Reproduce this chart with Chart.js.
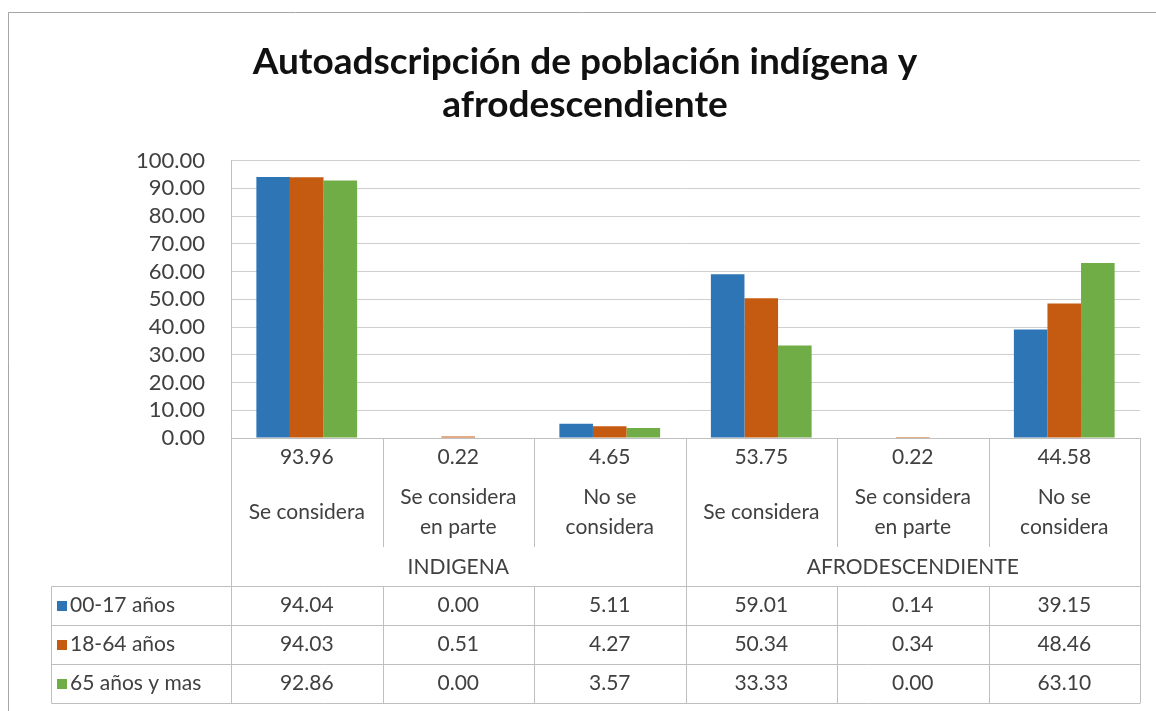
<!DOCTYPE html>
<html>
<head>
<meta charset="utf-8">
<script src="https://cdn.jsdelivr.net/npm/chart.js@4.4.1/dist/chart.umd.min.js"></script>
<style>
  html, body { margin: 0; padding: 0; background: #fff; }
  #contenedor { width: 1156px; height: 711px; position: relative; }
</style>
</head>
<body>
<div id="contenedor"><canvas id="graficaAutoadscripcion"></canvas></div>
<script>
// Datos de la gráfica
const categorias = [
  ['Se considera'],
  ['Se considera', 'en parte'],
  ['No se', 'considera'],
  ['Se considera'],
  ['Se considera', 'en parte'],
  ['No se', 'considera']
];
const totales = [93.96, 0.22, 4.65, 53.75, 0.22, 44.58];
const grupos = ['INDIGENA', 'AFRODESCENDIENTE'];
const categoriasPorGrupo = 3;

const series = ['00-17 años', '18-64 años', '65 años y mas'];
const edad00a17 = [94.04, 0.00, 5.11, 59.01, 0.14, 39.15];
const edad18a64 = [94.03, 0.51, 4.27, 50.34, 0.34, 48.46];
const edad65ymas = [92.86, 0.00, 3.57, 33.33, 0.00, 63.10];
const colores = ['#2E75B6', '#C55A11', '#70AD47'];

const ejeYMin = 0;
const ejeYMax = 100;
const ejeYPaso = 10;

const FUENTE = 'Lato, "Open Sans", sans-serif';
const TAM_TEXTO = 21;
const COLOR_TEXTO = '#404040';
const COLOR_LINEA = '#bfbfbf';

// Plugin: marco exterior y tabla de datos debajo del área de trazado
const tablaDatos = {
  id: 'tablaDatos',
  beforeDraw(chart) {
    const ctx = chart.ctx;
    ctx.save();
    ctx.fillStyle = '#fff';
    ctx.fillRect(0, 0, chart.width, chart.height);
    ctx.strokeStyle = '#a6a6a6';
    ctx.lineWidth = 1;
    ctx.beginPath();
    ctx.moveTo(8.5, chart.height);
    ctx.lineTo(8.5, 12.5);
    ctx.lineTo(chart.width, 12.5);
    ctx.stroke();
    ctx.restore();
  },
  afterDraw(chart) {
    const ctx = chart.ctx;
    const area = chart.chartArea;
    const n = categorias.length;
    const anchoCol = (area.right - area.left) / n;
    const bordes = [];
    for (let i = 0; i <= n; i++) bordes.push(Math.round(area.left + i * anchoCol) + 0.5);

    const base = Math.round(area.bottom);
    const finSeparador = base + 109;
    const tablaTop = base + 148;
    const altoFila = 39;
    const tablaBottom = tablaTop + altoFila * series.length;
    const tablaLeft = 51.5;
    const px = v => Math.round(v) + 0.5;

    ctx.save();
    ctx.strokeStyle = COLOR_LINEA;
    ctx.lineWidth = 1;
    ctx.beginPath();
    // línea base del eje
    ctx.moveTo(bordes[0], px(base));
    ctx.lineTo(bordes[n], px(base));
    // líneas verticales
    for (let i = 0; i <= n; i++) {
      const completa = (i % categoriasPorGrupo === 0);
      if (i === 0) {
        ctx.moveTo(bordes[i], area.top);
        ctx.lineTo(bordes[i], tablaBottom);
      } else if (completa) {
        ctx.moveTo(bordes[i], base);
        ctx.lineTo(bordes[i], tablaBottom);
      } else {
        ctx.moveTo(bordes[i], base);
        ctx.lineTo(bordes[i], finSeparador);
        ctx.moveTo(bordes[i], tablaTop);
        ctx.lineTo(bordes[i], tablaBottom);
      }
    }
    // filas de la leyenda
    for (let r = 0; r <= series.length; r++) {
      const y = px(tablaTop + r * altoFila);
      ctx.moveTo(tablaLeft, y);
      ctx.lineTo(bordes[n], y);
    }
    ctx.moveTo(tablaLeft, px(tablaTop));
    ctx.lineTo(tablaLeft, px(tablaBottom));
    ctx.stroke();

    ctx.fillStyle = COLOR_TEXTO;
    ctx.font = TAM_TEXTO + 'px ' + FUENTE;
    ctx.textAlign = 'center';
    ctx.textBaseline = 'middle';
    for (let i = 0; i < n; i++) {
      const cx = area.left + (i + 0.5) * anchoCol;
      ctx.fillText(totales[i].toFixed(2), cx, base + 19);
      const lineas = categorias[i];
      if (lineas.length === 1) {
        ctx.fillText(lineas[0], cx, base + 74);
      } else {
        ctx.fillText(lineas[0], cx, base + 59);
        ctx.fillText(lineas[1], cx, base + 89);
      }
    }
    grupos.forEach((g, k) => {
      const cx = area.left + (k * categoriasPorGrupo + categoriasPorGrupo / 2) * anchoCol;
      ctx.fillText(g, cx, base + 129);
    });

    const valores = chart.data.datasets.map(d => d.data);
    series.forEach((nombre, r) => {
      const cy = tablaTop + r * altoFila + altoFila / 2;
      ctx.fillStyle = colores[r];
      ctx.fillRect(57, Math.round(cy - 5), 10, 10);
      ctx.fillStyle = COLOR_TEXTO;
      ctx.textAlign = 'left';
      ctx.fillText(nombre, 70, cy);
      ctx.textAlign = 'center';
      for (let i = 0; i < n; i++) {
        const cx = area.left + (i + 0.5) * anchoCol;
        ctx.fillText(valores[r][i].toFixed(2), cx, cy);
      }
    });
    ctx.restore();
  }
};

const ctx = document.getElementById('graficaAutoadscripcion').getContext('2d');
const grafica = new Chart(ctx, {
  type: 'bar',
  data: {
    labels: categorias,
    datasets: [
      { label: series[0], data: edad00a17, backgroundColor: colores[0] },
      { label: series[1], data: edad18a64, backgroundColor: colores[1] },
      { label: series[2], data: edad65ymas, backgroundColor: colores[2] }
    ]
  },
  options: {
    responsive: true,
    maintainAspectRatio: false,
    animation: false,
    layout: { padding: { left: 30, right: 16, top: 0, bottom: 273 } },
    datasets: {
      bar: { categoryPercentage: 0.665, barPercentage: 1.0, borderWidth: 0 }
    },
    plugins: {
      legend: { display: false },
      tooltip: { enabled: false },
      title: {
        display: true,
        text: ['Autoadscripción de población indígena y', 'afrodescendiente'],
        color: '#111',
        font: { family: FUENTE, size: 37, weight: 'bold', lineHeight: 1.17 },
        padding: { top: 40, bottom: 34 }
      }
    },
    scales: {
      x: { display: false },
      y: {
        min: ejeYMin,
        max: ejeYMax,
        afterFit(scale) { scale.width = 201; },
        ticks: {
          stepSize: ejeYPaso,
          autoSkip: false,
          padding: 26,
          color: COLOR_TEXTO,
          font: { family: FUENTE, size: 22 },
          callback: v => Number(v).toFixed(2)
        },
        grid: { color: '#cfcfcf', drawTicks: false },
        border: { display: false }
      }
    }
  },
  plugins: [tablaDatos]
});
</script>
</body>
</html>
